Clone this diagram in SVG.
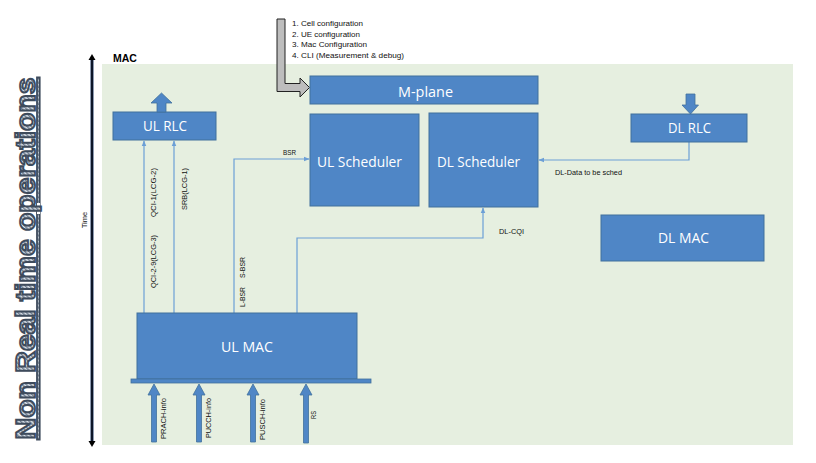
<svg xmlns="http://www.w3.org/2000/svg" width="816" height="463" viewBox="0 0 816 463">
<style>
.box{fill:#4F86C6;stroke:#41719C;stroke-width:1}
.bt{font-family:"Open Sans","Liberation Sans",Arial,sans-serif;font-weight:500;fill:#fff;font-size:14px;text-anchor:middle}
.ln{fill:none;stroke:#6C9FD6;stroke-width:1.2}
.lb{font-family:"Liberation Sans",Arial,sans-serif;fill:#111;font-size:7.5px}
.big{fill:#4F86C6;stroke:#41719C;stroke-width:0.8}
</style>
<defs>
<marker id="ah" viewBox="0 0 10 10" refX="9" refY="5" markerWidth="6" markerHeight="6" orient="auto" markerUnits="userSpaceOnUse">
<path d="M0,1 L10,5 L0,9 z" fill="#6C9FD6"/>
</marker>
<pattern id="hatch" width="3" height="3" patternUnits="userSpaceOnUse" patternTransform="rotate(45)">
<rect width="3" height="3" fill="#DDE3EA"/>
<rect width="1.5" height="3" fill="#6F7D8F"/>
</pattern>
</defs>
<rect width="816" height="463" fill="#fff"/>
<rect x="102" y="64" width="691" height="381" fill="#E6EFE0"/>
<g id="nrt">
<text transform="translate(35,258.5) rotate(-90)" text-anchor="middle" font-family="'Liberation Sans',Arial,sans-serif" font-weight="bold" font-size="27" textLength="362" lengthAdjust="spacingAndGlyphs" fill="url(#hatch)" stroke="#3E4B5C" stroke-width="1.8" text-decoration="underline">Non Real time operations</text>
</g>
<g id="time">
<line x1="92" y1="58" x2="92" y2="443" stroke="#1F3864" stroke-width="3"/>
<line x1="92" y1="58" x2="92" y2="443" stroke="#000" stroke-width="1.2"/>
<path d="M88.5,60 L92,54 L95.5,60 z" fill="#000"/>
<path d="M88.5,441 L92,447 L95.5,441 z" fill="#000"/>
<text transform="translate(87,220) rotate(-90)" text-anchor="middle" class="lb" font-size="7">Time</text>
</g>
<text x="113" y="62" font-family="Liberation Sans,Arial,sans-serif" font-weight="bold" font-size="10.5" fill="#000">MAC</text>
<g id="config">
<polygon points="277,19 285,19 285,83.5 300,83.5 300,78 309.5,87.5 300,97 300,91.5 277,91.5" fill="#BDBDBD" stroke="#222" stroke-width="1"/>
<text class="lb" x="292" y="26" textLength="71" lengthAdjust="spacingAndGlyphs">1. Cell configuration</text>
<text class="lb" x="292" y="36.5" textLength="68" lengthAdjust="spacingAndGlyphs">2. UE configuration</text>
<text class="lb" x="292" y="47" textLength="75" lengthAdjust="spacingAndGlyphs">3. Mac Configuration</text>
<text class="lb" x="292" y="57.5" textLength="112" lengthAdjust="spacingAndGlyphs">4. CLI  (Measurement &amp; debug)</text>
</g>
<g id="connectors">
<line class="ln" x1="144" y1="313" x2="144" y2="141" marker-end="url(#ah)"/>
<line class="ln" x1="174" y1="313" x2="174" y2="141" marker-end="url(#ah)"/>
<polyline class="ln" points="234,313 234,159 309,159" marker-end="url(#ah)"/>
<polyline class="ln" points="297,313 297,238 483,238 483,208" marker-end="url(#ah)"/>
<polyline class="ln" points="689,142 689,160 539,160" marker-end="url(#ah)"/>
<text class="lb" transform="translate(156,217) rotate(-90)" textLength="49" lengthAdjust="spacingAndGlyphs">QCI-1(LCG-2)</text>
<text class="lb" transform="translate(156,288) rotate(-90)" textLength="53" lengthAdjust="spacingAndGlyphs">QCI-2-9(LCG-3)</text>
<text class="lb" transform="translate(187,210) rotate(-90)" textLength="42" lengthAdjust="spacingAndGlyphs">SRB(LCG-1)</text>
<text class="lb" transform="translate(245,307) rotate(-90)" textLength="20" lengthAdjust="spacingAndGlyphs">L-BSR</text>
<text class="lb" transform="translate(245,278) rotate(-90)" textLength="21" lengthAdjust="spacingAndGlyphs">S-BSR</text>
<text class="lb" x="283" y="155" textLength="13" lengthAdjust="spacingAndGlyphs">BSR</text>
<text class="lb" x="499" y="234" textLength="25" lengthAdjust="spacingAndGlyphs">DL-CQI</text>
<text class="lb" x="555" y="174.5" textLength="67" lengthAdjust="spacingAndGlyphs">DL-Data to be sched</text>
</g>
<g id="mplane">
<rect class="box" x="310" y="76" width="228" height="28"/>
<text class="bt" x="425.5" y="97" font-size="15" textLength="55" lengthAdjust="spacingAndGlyphs">M-plane</text>
</g>
<g id="ulrlc">
<rect class="box" x="113" y="112" width="103" height="28"/>
<text class="bt" x="165" y="131" textLength="44" lengthAdjust="spacingAndGlyphs">UL RLC</text>
<polygon class="big" points="157,112 157,103 151,103 161.5,93 172,103 166,103 166,112"/>
</g>
<g id="dlrlc">
<polygon class="big" points="686,94 695,94 695,105 698.5,105 690.5,114 682,105 686,105"/>
<rect class="box" x="631" y="114" width="116" height="28"/>
<text class="bt" x="689.5" y="133" textLength="43" lengthAdjust="spacingAndGlyphs">DL RLC</text>
</g>
<g id="ulsched">
<rect class="box" x="310" y="114" width="109" height="92"/>
<text class="bt" x="359.5" y="167" textLength="85" lengthAdjust="spacingAndGlyphs">UL Scheduler</text>
</g>
<g id="dlsched">
<rect class="box" x="429" y="113" width="109" height="94"/>
<text class="bt" x="478.5" y="167" textLength="83" lengthAdjust="spacingAndGlyphs">DL Scheduler</text>
</g>
<g id="dlmac">
<rect class="box" x="601" y="215" width="163" height="46"/>
<text class="bt" x="683.5" y="243" textLength="51" lengthAdjust="spacingAndGlyphs">DL MAC</text>
</g>
<g id="ulmac">
<rect class="box" x="137" y="313" width="220" height="66"/>
<text class="bt" x="247" y="352" textLength="52" lengthAdjust="spacingAndGlyphs">UL MAC</text>
<rect x="131" y="379" width="240" height="4" fill="#4F86C6" stroke="#41719C" stroke-width="0.8"/>
</g>
<g id="inputs">
<polygon class="big" points="151.5,442 156.5,442 156.5,395 160,395 154,384 148,395 151.5,395"/>
<polygon class="big" points="196.5,442 201.5,442 201.5,395 205,395 199,384 193,395 196.5,395"/>
<polygon class="big" points="250.5,442 255.5,442 255.5,395 259,395 253,384 247,395 250.5,395"/>
<polygon class="big" points="303.5,443 308.5,443 308.5,395 312,395 306,384 300,395 303.5,395"/>
<text class="lb" transform="translate(166,439) rotate(-90)" textLength="41" lengthAdjust="spacingAndGlyphs">PRACH-info</text>
<text class="lb" transform="translate(211,438) rotate(-90)" textLength="40" lengthAdjust="spacingAndGlyphs">PUCCH-info</text>
<text class="lb" transform="translate(265,440) rotate(-90)" textLength="41" lengthAdjust="spacingAndGlyphs">PUSCH-info</text>
<text class="lb" transform="translate(316,419) rotate(-90)" textLength="8" lengthAdjust="spacingAndGlyphs">RS</text>
</g>
</svg>
